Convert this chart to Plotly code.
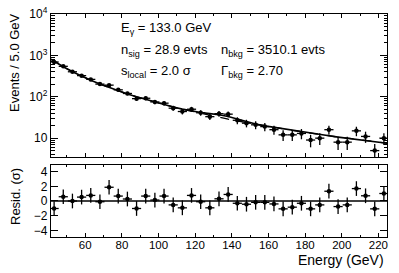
import numpy as np
import plotly.graph_objects as go

# ---- data ----
energy = [43, 48, 53, 58, 63, 68, 73, 78, 83, 88, 93, 98, 103, 108, 113, 118, 123, 128,
          133, 138, 143, 148, 153, 158, 163, 168, 173, 178, 183, 188, 193, 198, 203, 208,
          213, 218, 223]
counts = [693, 544, 402, 324, 263, 202, 191, 147, 120, 90, 92, 75, 70, 53, 44, 50, 41, 33,
          39, 38, 27, 23, 21, 19, 16, 12, 12, 13, 9, 10, 16, 8, 8, 15, 11, 5, 10]
resid = [-1.02, 0.58, 0.0, 0.53, 0.76, -0.1, 1.87, 0.67, 0.27, -1.02, 0.67, 0.13, 0.67,
         -0.53, -0.93, 0.76, -0.1, -0.93, 0.3, 0.89, -0.31, -0.44, -0.18, -0.18, -0.4,
         -1.07, -0.84, -0.31, -1.07, -0.53, 1.33, -0.76, -0.53, 1.69, 0.71, -1.07, 1.02]

curve_x = [41.3, 43, 48, 53, 58, 63, 68, 73, 78, 83, 88, 93, 98, 103, 108, 113, 118, 123,
           128, 133, 138, 143, 148, 153, 158, 163, 168, 173, 178, 183, 188, 193, 198, 203,
           208, 213, 218, 223, 224.7]
bkg_curve = [805, 720, 531, 404, 315, 251, 203, 167, 139, 117, 99.8, 85.7, 74.1, 64.6, 56.7,
             50.0, 44.4, 39.6, 35.4, 31.9, 28.8, 26.1, 23.8, 21.7, 19.8, 18.2, 16.8, 15.4,
             14.3, 13.2, 12.3, 11.4, 10.6, 10.0, 9.3, 8.7, 8.2, 7.7, 7.54]
total_curve = [805, 720, 531, 404, 315, 251, 203, 167, 139, 117, 99.8, 85.7, 74.1, 64.6, 56.7,
               50.2, 45.1, 41.5, 39.2, 36.9, 33.2, 28.8, 24.9, 22.0, 19.8, 18.2, 16.8, 15.4,
               14.3, 13.2, 12.3, 11.4, 10.6, 10.0, 9.3, 8.7, 8.2, 7.7, 7.54]

bin_half = 2.5
y_ticks = [10, 100, 1000, 10000]
y_ticktext = ["10", "10<sup>2</sup>", "10<sup>3</sup>", "10<sup>4</sup>"]
r_ticks = [-4, -2, 0, 2, 4]
x_ticks = [60, 80, 100, 120, 140, 160, 180, 200, 220]

FONT = "Liberation Sans, Arial, Helvetica, sans-serif"

cnt = np.array(counts, dtype=float)
err = np.sqrt(cnt)

fig = go.Figure()
fig.add_trace(go.Scatter(x=curve_x, y=bkg_curve, mode="lines",
                         line=dict(color="black", width=1.3, dash="dash"),
                         xaxis="x", yaxis="y", showlegend=False))
fig.add_trace(go.Scatter(x=curve_x, y=total_curve, mode="lines",
                         line=dict(color="black", width=1.6),
                         xaxis="x", yaxis="y", showlegend=False))
fig.add_trace(go.Scatter(x=energy, y=counts, mode="markers",
                         marker=dict(color="black", size=4.5),
                         error_y=dict(type="data", array=err, color="black", thickness=1.3, width=0),
                         error_x=dict(type="constant", value=bin_half, color="black", thickness=1.3, width=0),
                         xaxis="x", yaxis="y", showlegend=False))
fig.add_trace(go.Scatter(x=energy, y=resid, mode="markers",
                         marker=dict(color="black", size=4.5),
                         error_y=dict(type="constant", value=1.0, color="black", thickness=1.3, width=0),
                         error_x=dict(type="constant", value=bin_half, color="black", thickness=1.3, width=0),
                         xaxis="x2", yaxis="y2", showlegend=False))

xr = [41.3, 224.7]
common_x = dict(range=xr, showline=True, linecolor="black", linewidth=1.2, mirror="ticks",
                ticks="inside", ticklen=4, tickcolor="black", tickvals=x_ticks,
                minor=dict(ticks="inside", ticklen=2, dtick=10, tick0=0, tickcolor="black"),
                showgrid=False, zeroline=False, automargin=False)

minor_log = [m * 10 ** k for k in range(0, 4) for m in range(2, 10)]

fig.update_layout(
    width=399, height=273,
    margin=dict(l=51, r=12, t=14, b=36, autoexpand=False),
    paper_bgcolor="white", plot_bgcolor="white",
    font=dict(family=FONT, size=12, color="black"),
    hovermode=False,
    xaxis=dict(domain=[0, 1], anchor="y", showticklabels=False, **common_x),
    yaxis=dict(domain=[0.3587, 1], anchor="x", type="log", range=[0.544, 4.0],
               showline=True, linecolor="black", linewidth=1.2, mirror="ticks",
               ticks="inside", ticklen=7, tickcolor="black",
               tickvals=y_ticks, ticktext=y_ticktext, ticklabeloverflow="allow",
               minor=dict(ticks="inside", ticklen=3.5, tickvals=minor_log, tickcolor="black"),
               showgrid=False, zeroline=False, tickfont=dict(size=12), automargin=False),
    xaxis2=dict(domain=[0, 1], anchor="y2", showticklabels=True, tickfont=dict(size=11.5),
                ticklabelstandoff=-3, **common_x),
    yaxis2=dict(domain=[0, 0.3229], anchor="x2", range=[-4.9, 4.9],
                showline=True, linecolor="black", linewidth=1.2, mirror="ticks",
                ticks="inside", ticklen=7, tickcolor="black", tickvals=r_ticks,
                showgrid=False, zeroline=False, tickfont=dict(size=12), automargin=False),
)

fig.add_shape(type="line", xref="x2", yref="y2", x0=xr[0], x1=xr[1], y0=0, y1=0,
              line=dict(color="black", width=1.3))

# helpers: window pixel -> paper fraction (plot area spans x 51..387, y 14..237)
def px_x(p):
    return (p - 51) / 336.0

def px_y(p):
    return (237 - p) / 223.0

ann = [
    ("E<sub>γ</sub> = 133.0 GeV", 119, 29),
    ("n<sub>sig</sub> = 28.9 evts", 119, 50),
    ("n<sub>bkg</sub> = 3510.1 evts", 219, 50),
    ("s<sub>local</sub> = 2.0 σ", 119, 71),
    ("Γ<sub>bkg</sub> = 2.70", 219, 71),
]
for t, x, y in ann:
    fig.add_annotation(text=t, x=px_x(x), y=px_y(y), xref="paper", yref="paper",
                       xanchor="left", yanchor="middle", showarrow=False,
                       font=dict(size=13, family=FONT))

fig.add_annotation(text="Events / 5.0 GeV", x=px_x(15), y=px_y(63), xref="paper", yref="paper",
                   textangle=-90, showarrow=False, xanchor="center", yanchor="middle",
                   font=dict(size=13, family=FONT))
fig.add_annotation(text="Resid. (σ)", x=px_x(15), y=px_y(197), xref="paper", yref="paper",
                   textangle=-90, showarrow=False, xanchor="center", yanchor="middle",
                   font=dict(size=13, family=FONT))
fig.add_annotation(text="Energy (GeV)", x=px_x(386), y=px_y(260), xref="paper", yref="paper",
                   showarrow=False, xanchor="right", yanchor="middle",
                   font=dict(size=14, family=FONT))

# remove the default 8px page margin so the figure fills the window
fig.write_html("out.html",
               config={"displayModeBar": False, "staticPlot": True},
               post_script="document.body.style.margin='0';document.body.style.overflow='hidden';")
